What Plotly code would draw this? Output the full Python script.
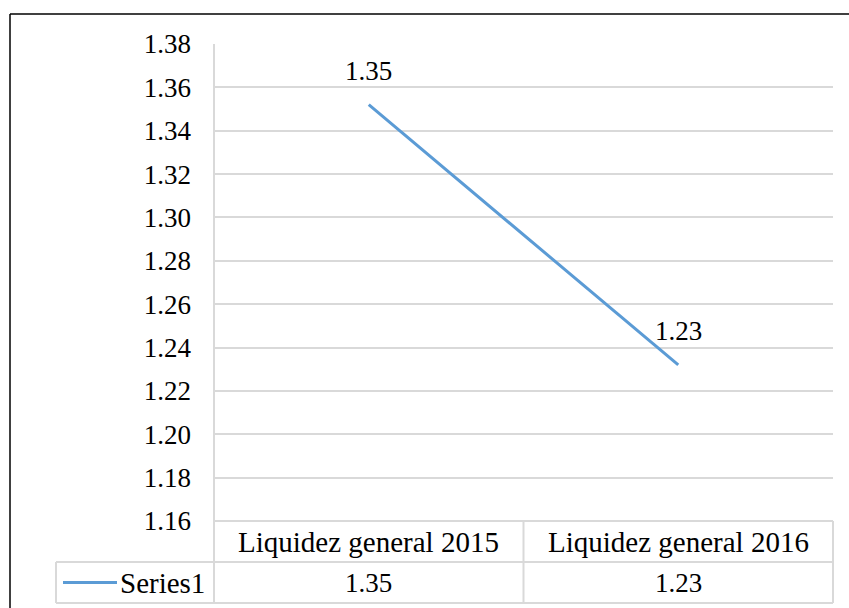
import plotly.graph_objects as go

categories = ["Liquidez general 2015", "Liquidez general 2016"]
values = [1.352, 1.232]
value_labels = ["1.35", "1.23"]
series_name = "Series1"
y_ticks = [1.16, 1.18, 1.20, 1.22, 1.24, 1.26, 1.28, 1.30, 1.32, 1.34, 1.36, 1.38]

FONT = "'Liberation Serif', 'Times New Roman', serif"
BLUE = "#5B9BD5"
GRID = "#d9d9d9"
FS = 27
FS_HDR = 29

W, H = 849, 608
ML, MR, MT, MB = 214, 16, 44, 87
PW, PH = W - ML - MR, H - MT - MB

def px_x(x):
    return (x - ML) / PW

def px_y(y):
    return 1 - (y - MT) / PH

fig = go.Figure()
fig.add_trace(go.Scatter(
    x=categories, y=values, mode="lines", name=series_name,
    line=dict(color=BLUE, width=3), showlegend=False, hoverinfo="skip",
))

# data labels above points
for c, v, t in zip(categories, values, value_labels):
    fig.add_annotation(x=c, y=v, text=t, showarrow=False, yshift=34,
                       xanchor="center", yanchor="middle",
                       font=dict(family=FONT, size=FS, color="black"))

row1_top, row1_bot, row2_bot = 0, px_y(562), px_y(603)
row2_left = px_x(56)
line = dict(color=GRID, width=2)
shapes = []
# table grid
shapes.append(dict(type="line", xref="paper", yref="paper", x0=0, x1=1, y0=row1_top, y1=row1_top, line=line))
shapes.append(dict(type="line", xref="paper", yref="paper", x0=row2_left, x1=1, y0=row1_bot, y1=row1_bot, line=line))
shapes.append(dict(type="line", xref="paper", yref="paper", x0=row2_left, x1=1, y0=row2_bot, y1=row2_bot, line=line))
shapes.append(dict(type="line", xref="paper", yref="paper", x0=0, x1=0, y0=1, y1=row2_bot, line=line))
shapes.append(dict(type="line", xref="paper", yref="paper", x0=0.5, x1=0.5, y0=0, y1=row2_bot, line=line))
shapes.append(dict(type="line", xref="paper", yref="paper", x0=1, x1=1, y0=0, y1=row2_bot, line=line))
shapes.append(dict(type="line", xref="paper", yref="paper", x0=row2_left, x1=row2_left, y0=row1_bot, y1=row2_bot, line=line))
# legend key
key_y = (row1_bot + row2_bot) / 2
shapes.append(dict(type="line", xref="paper", yref="paper", x0=px_x(63), x1=px_x(117), y0=key_y, y1=key_y,
                   line=dict(color=BLUE, width=3)))
# outer chart border (left and top)
bl = dict(color="black", width=1.5)
shapes.append(dict(type="line", xref="paper", yref="paper", x0=px_x(10), x1=px_x(10), y0=px_y(14), y1=px_y(640), line=bl))
shapes.append(dict(type="line", xref="paper", yref="paper", x0=px_x(10), x1=px_x(870), y0=px_y(14), y1=px_y(14), line=bl))

# table text
hdr_y = (row1_top + row1_bot) / 2
for c in categories:
    fig.add_annotation(x=c, y=hdr_y, yref="paper", text=c, showarrow=False,
                       xanchor="center", yanchor="middle",
                       font=dict(family=FONT, size=FS_HDR, color="black"))
for c, t in zip(categories, value_labels):
    fig.add_annotation(x=c, y=key_y, yref="paper", text=t, showarrow=False,
                       xanchor="center", yanchor="middle",
                       font=dict(family=FONT, size=FS, color="black"))
fig.add_annotation(x=px_x(207), y=key_y, xref="paper", yref="paper", text=series_name,
                   showarrow=False, xanchor="right", yanchor="middle",
                   font=dict(family=FONT, size=FS_HDR, color="black"))

fig.update_layout(
    width=W, height=H,
    margin=dict(l=ML, r=MR, t=MT, b=MB, pad=0),
    paper_bgcolor="white", plot_bgcolor="white",
    shapes=shapes,
    font=dict(family=FONT, size=FS, color="black"),
    xaxis=dict(type="category", range=[-0.5, 1.5], showticklabels=False, showgrid=False,
               zeroline=False, showline=False, ticks=""),
    yaxis=dict(range=[1.16, 1.38], tickvals=y_ticks, tickformat=".2f", showgrid=True,
               gridcolor=GRID, gridwidth=1.5, zeroline=False, showline=False, ticks="",
               ticklabelstandoff=22, tickfont=dict(family=FONT, size=FS, color="black")),
)

fig.write_html("out.html", config={"displayModeBar": False},
               post_script="document.body.style.margin='0';document.body.style.padding='0';")
